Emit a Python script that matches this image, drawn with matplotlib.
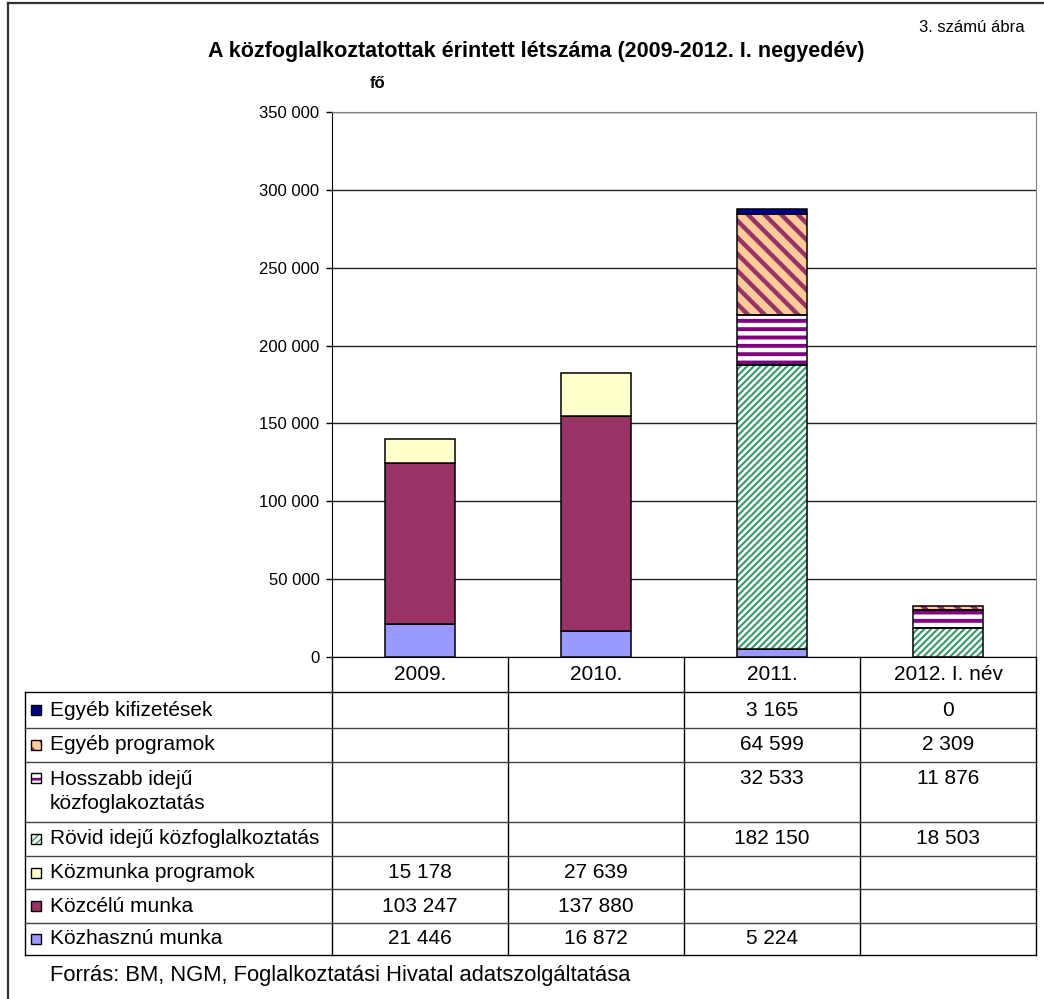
import numpy as np
import matplotlib
matplotlib.use("Agg")
import matplotlib.pyplot as plt
from matplotlib.patches import Rectangle
from matplotlib.ticker import FuncFormatter

plt.rcParams['font.family'] = ['Liberation Sans', 'DejaVu Sans']

# data
years = ["2009.", "2010.", "2011.", "2012. I. név"]
kozhasznu = [21446, 16872, 5224, np.nan]
kozcelu = [103247, 137880, np.nan, np.nan]
kozmunka = [15178, 27639, np.nan, np.nan]
rovid = [np.nan, np.nan, 182150, 18503]
hosszabb = [np.nan, np.nan, 32533, 11876]
egyeb_prog = [np.nan, np.nan, 64599, 2309]
egyeb_kifiz = [np.nan, np.nan, 3165, 0]

# stacking order, bottom to top: (label, values, face, hatch, hatch colour, hatch lw)
series = [
    ("Közhasznú munka", kozhasznu, "#9999FF", None, None, 0),
    ("Közcélú munka", kozcelu, "#993366", None, None, 0),
    ("Közmunka programok", kozmunka, "#FFFFCC", None, None, 0),
    ("Rövid idejű közfoglalkoztatás", rovid, "white", "/////", "#339966", 1.5),
    ("Hosszabb idejű\nközfoglakoztatás", hosszabb, "white", "--", "#800080", 2.8),
    ("Egyéb programok", egyeb_prog, "#FFCC99", "\\\\", "#993366", 3.2),
    ("Egyéb kifizetések", egyeb_kifiz, "#000080", None, None, 0),
]

FS = 15

W, H = 1044, 999
fig = plt.figure(figsize=(W / 100, H / 100), dpi=100)

# plot area in pixels
PL, PR, PT, PB = 332, 1036, 112, 657
ax = fig.add_axes([PL / W, 1 - PB / H, (PR - PL) / W, (PB - PT) / H])

x = np.arange(len(years))
bottom = np.zeros(len(years))


def hatched(patch, lw):
    if hasattr(patch, "set_hatch_linewidth"):
        patch.set_hatch_linewidth(lw)


for label, vals, face, hatch, hcol, hlw in series:
    v = np.nan_to_num(np.array(vals, dtype=float))
    mask = v > 0
    if hatch:
        bars = ax.bar(x[mask], v[mask], 0.4, bottom=bottom[mask], color=face,
                      hatch=hatch, edgecolor=hcol, linewidth=0, zorder=3)
        for b in bars:
            hatched(b, hlw)
        ax.bar(x[mask], v[mask], 0.4, bottom=bottom[mask], fill=False,
               edgecolor="black", linewidth=1.1, zorder=4)
    else:
        ax.bar(x[mask], v[mask], 0.4, bottom=bottom[mask], color=face,
               edgecolor="black", linewidth=1.1, zorder=3)
    bottom += v

ax.set_xlim(-0.5, len(years) - 0.5)
ax.set_ylim(0, 350000)
ax.set_yticks(np.arange(0, 350001, 50000))
ax.yaxis.set_major_formatter(FuncFormatter(lambda v, p: f"{int(v):,}".replace(",", " ")))
ax.tick_params(axis="y", labelsize=12, length=4, width=1, pad=5)
ax.set_xticks([])
ax.grid(axis="y", color="#222222", linewidth=1, zorder=0)
ax.set_axisbelow(True)
for s in ["top", "right"]:
    ax.spines[s].set_color("#808080")
ax.spines["left"].set_color("black")
ax.spines["bottom"].set_color("black")

# overlay in pixel coordinates for table, texts and frame
ov2 = fig.add_axes([0, 0, 1, 1], zorder=5)
ov2.set_xlim(0, W)
ov2.set_ylim(H, 0)
ov2.axis("off")
ov2.patch.set_alpha(0)

# outer frame
ov2.plot([8, W], [3, 3], color="#333333", lw=1.6)
ov2.plot([8, 8], [3, H], color="#333333", lw=1.6)

ov2.text(1025, 28, "3. számú ábra", ha="right", va="center", fontsize=12)
ov2.text(536, 52, "A közfoglalkoztatottak érintett létszáma (2009-2012. I. negyedév)",
         ha="center", va="center", fontsize=15.5, fontweight="bold")
ov2.text(378, 83, "fő", ha="center", va="center", fontsize=12, fontweight="bold")
ov2.text(50, 976, "Forrás: BM, NGM, Foglalkoztatási Hivatal adatszolgáltatása",
         ha="left", va="center", fontsize=15.8)

# data table
TL = 25
col_w = (PR - PL) / len(years)
col_c = [PL + col_w * (i + 0.5) for i in range(len(years))]
row_edges = [692, 728, 762, 822, 856, 889, 923, 955]

for i, yr in enumerate(years):
    ov2.text(col_c[i], (PB + row_edges[0]) / 2, yr, ha="center", va="center", fontsize=FS)

for i in range(len(years) + 1):
    xx = PL + col_w * i
    ov2.plot([xx, xx], [PB, row_edges[-1]], color="black", lw=1)
ov2.plot([TL, TL], [row_edges[0], row_edges[-1]], color="black", lw=1)
for k, ye in enumerate(row_edges):
    ov2.plot([TL, PR], [ye, ye], color="black" if k in (0, len(row_edges) - 1) else "#444444", lw=1)

for r, (label, vals, face, hatch, hcol, hlw) in enumerate(series[::-1]):
    top, bot = row_edges[r], row_edges[r + 1]
    two = "\n" in label
    ty = top + 16 if two else (top + bot) / 2
    if hatch:
        kp = Rectangle((31, ty - 5), 10, 10, facecolor=face, hatch=hatch,
                       edgecolor=hcol, linewidth=0)
        hatched(kp, hlw * 0.7)
        ov2.add_patch(kp)
        ov2.add_patch(Rectangle((31, ty - 5), 10, 10, fill=False, edgecolor="black", lw=1))
    else:
        ov2.add_patch(Rectangle((31, ty - 5), 10, 10, facecolor=face, edgecolor="black", lw=1))
    if two:
        ov2.text(50, top + 29.5, label, ha="left", va="center", fontsize=FS, linespacing=1.3)
    else:
        ov2.text(50, ty, label, ha="left", va="center", fontsize=FS)
    for i, v in enumerate(vals):
        if not np.isnan(v):
            ov2.text(col_c[i], ty, f"{int(v):,}".replace(",", " "),
                     ha="center", va="center", fontsize=FS)

fig.savefig("out.png", dpi=100)
